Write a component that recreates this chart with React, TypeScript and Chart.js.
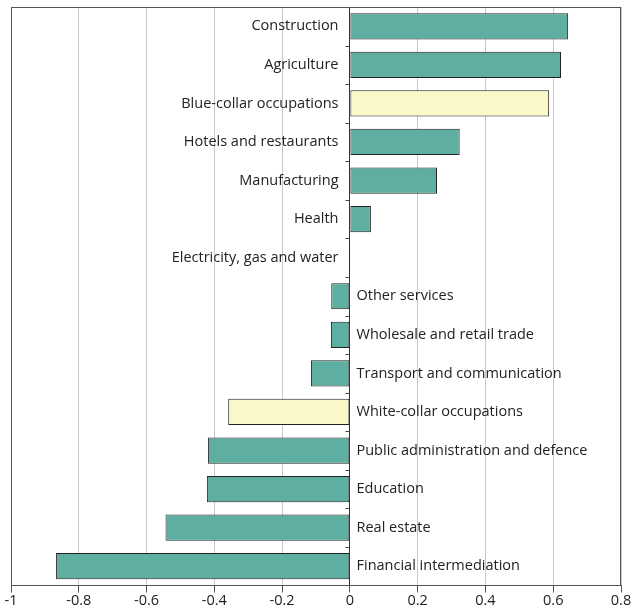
import React, { useEffect, useRef } from "react";
import { Chart, registerables } from "chart.js";

Chart.register(...registerables);

const categories = [
  "Construction",
  "Agriculture",
  "Blue-collar occupations",
  "Hotels and restaurants",
  "Manufacturing",
  "Health",
  "Electricity, gas and water",
  "Other services",
  "Wholesale and retail trade",
  "Transport and communication",
  "White-collar occupations",
  "Public administration and defence",
  "Education",
  "Real estate",
  "Financial intermediation",
];

const values = [
  0.644, 0.623, 0.588, 0.324, 0.257, 0.062, 0.002, -0.055, -0.056, -0.115,
  -0.359, -0.419, -0.422, -0.544, -0.867,
];

const occupationCategories = ["Blue-collar occupations", "White-collar occupations"];

const xTickValues = [-1, -0.8, -0.6, -0.4, -0.2, 0, 0.2, 0.4, 0.6, 0.8];

const TEAL = "#5eafa1";
const YELLOW = "#faf7c8";
const FONT = "'Open Sans', 'Noto Sans', sans-serif";

export default function App() {
  const ref = useRef<HTMLCanvasElement | null>(null);

  useEffect(() => {
    const canvas = ref.current;
    if (!canvas) return;

    const overlay = {
      id: "overlay",
      afterDatasetsDraw(chart: any) {
        const { ctx, chartArea } = chart;
        const x = chart.scales.x;
        const y = chart.scales.y;
        const x0 = Math.round(x.getPixelForValue(0)) - 0.5;
        ctx.save();
        ctx.strokeStyle = "#333";
        ctx.lineWidth = 1;
        ctx.beginPath();
        ctx.moveTo(x0, chartArea.top);
        ctx.lineTo(x0, chartArea.bottom);
        ctx.stroke();
        const step = (chartArea.bottom - chartArea.top) / categories.length;
        ctx.strokeStyle = "#444";
        for (let i = 1; i < categories.length; i++) {
          const yy = Math.round(chartArea.top + i * step) + 0.5;
          ctx.beginPath();
          ctx.moveTo(x0 - 4, yy);
          ctx.lineTo(x0, yy);
          ctx.stroke();
        }
        ctx.strokeStyle = "#555";
        ctx.strokeRect(
          Math.round(chartArea.left) + 0.5,
          Math.round(chartArea.top) + 0.5,
          Math.round(chartArea.right - chartArea.left) - 1,
          Math.round(chartArea.bottom - chartArea.top) - 1
        );
        ctx.font = `14.5px ${FONT}`;
        ctx.fillStyle = "#222";
        ctx.textBaseline = "middle";
        categories.forEach((c, i) => {
          const yy = y.getPixelForValue(i);
          if (values[i] >= 0) {
            ctx.textAlign = "right";
            ctx.fillText(c, x0 - 11, yy);
          } else {
            ctx.textAlign = "left";
            ctx.fillText(c, x0 + 7, yy);
          }
        });
        ctx.restore();
      },
    };

    const chart = new Chart(canvas, {
      type: "bar",
      data: {
        labels: categories,
        datasets: [
          {
            data: values,
            backgroundColor: categories.map((c) =>
              occupationCategories.includes(c) ? YELLOW : TEAL
            ),
            borderColor: "#222",
            borderWidth: 1,
            borderSkipped: false,
            barPercentage: 0.68,
            categoryPercentage: 1,
          },
        ],
      },
      options: {
        indexAxis: "y",
        animation: false,
        responsive: false,
        maintainAspectRatio: false,
        layout: { padding: { left: 11, right: 12, top: 7, bottom: 1 } },
        plugins: {
          legend: { display: false },
          tooltip: { enabled: false },
        },
        scales: {
          x: {
            min: -1,
            max: 0.8,
            afterBuildTicks: (scale: any) => {
              scale.ticks = xTickValues.map((v) => ({ value: v }));
            },
            grid: {
              color: "#c8c8c8",
              tickColor: "#555",
              tickLength: 7,
              lineWidth: 1,
            },
            border: { display: true, color: "#555", width: 1 },
            ticks: {
              padding: 1,
              color: "#222",
              font: { family: FONT, size: 14.5, lineHeight: 1 },
              autoSkip: false,
              maxRotation: 0,
              callback: (v: any) => String(Math.round(Number(v) * 10) / 10),
            },
          },
          y: {
            display: false,
          },
        },
      },
      plugins: [overlay],
    });

    return () => chart.destroy();
  }, []);

  return (
    <div style={{ position: "fixed", left: 0, top: 0, width: 633, height: 610, background: "#fff" }}>
      <canvas ref={ref} width={633} height={610} style={{ width: 633, height: 610, display: "block" }} />
    </div>
  );
}
